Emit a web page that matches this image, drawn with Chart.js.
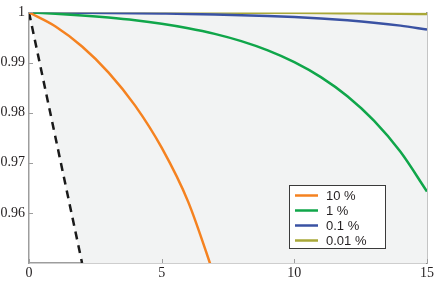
<!DOCTYPE html>
<html>
<head>
<meta charset="utf-8">
<script src="https://cdn.jsdelivr.net/npm/chart.js@4.4.1/dist/chart.umd.min.js"></script>
<style>
  html, body { margin: 0; padding: 0; background: #fff; }
  #wrap { position: relative; width: 436px; height: 282px; }
</style>
</head>
<body>
<div id="wrap"><canvas id="myChart" width="436" height="282"></canvas></div>
<script>
/* Values */
var xs = [0, 1, 2, 3, 4, 5, 6, 7, 8, 9, 10, 11, 12, 13, 14, 15];
var xsTen = [0, 1, 2, 3, 4, 5, 6, 7];
var ten = [1, 0.9972, 0.9932, 0.9880, 0.9814, 0.9730, 0.9622, 0.9472];
var one = [1, 0.99974, 0.99940, 0.99897, 0.99843, 0.99773, 0.99684, 0.99571, 0.99426, 0.99242, 0.99007, 0.98708, 0.98326, 0.97839, 0.97218, 0.96426];
var tenth = [1, 0.99997, 0.99994, 0.99990, 0.99985, 0.99978, 0.99970, 0.99959, 0.99945, 0.99928, 0.99906, 0.99877, 0.99841, 0.99795, 0.99736, 0.99660];
var hundredth = [1, 1, 0.99999, 0.99999, 0.99998, 0.99998, 0.99997, 0.99996, 0.99995, 0.99993, 0.99991, 0.99988, 0.99984, 0.99980, 0.99974, 0.99966];
var dashX = [0, 2];
var dashY = [1, 0.95];
var shadeX = [0, 2, 15];
var shadeY = [1, 0.95, 0.95];

var labels = ['10 %', '1 %', '0.1 %', '0.01 %'];
var colors = ['#f58220', '#10a64a', '#3a52a3', '#a9a838'];

var xTicks = [0, 5, 10, 15];
var yTicks = [0.96, 0.97, 0.98, 0.99, 1];
var yTickLabels = ['0.96', '0.97', '0.98', '0.99', '1'];

function pts(x, y) {
    var out = [];
    for (let i = 0; i < y.length; i++) out.push({x: x[i], y: y[i]});
    return out;
}

var axisGray = '#9d9d9d';

function curve(i, x, y) {
    return {
        label: labels[i],
        data: pts(x, y),
        borderColor: colors[i],
        backgroundColor: colors[i],
        borderWidth: 2.5,
        pointRadius: 0,
        cubicInterpolationMode: 'monotone',
        fill: false
    };
}

/* small tick marks pointing into the plot */
const innerTicks = {
    id: 'innerTicks',
    afterDatasetsDraw(chart) {
        var ctx = chart.ctx, a = chart.chartArea;
        var sx = chart.scales.x, sy = chart.scales.y;
        ctx.save();
        ctx.strokeStyle = axisGray;
        ctx.lineWidth = 1;
        yTicks.forEach(function (v) {
            var py = Math.round(sy.getPixelForValue(v)) + 0.5;
            ctx.beginPath(); ctx.moveTo(a.left, py); ctx.lineTo(a.left + 4, py); ctx.stroke();
        });
        xTicks.forEach(function (v) {
            var px = Math.round(sx.getPixelForValue(v)) + 0.5;
            ctx.beginPath(); ctx.moveTo(px, a.bottom); ctx.lineTo(px, a.bottom - 4); ctx.stroke();
        });
        ctx.restore();
    }
};

/* boxed legend inside the plot, lower right */
const boxLegend = {
    id: 'boxLegend',
    afterDraw(chart) {
        var ctx = chart.ctx, a = chart.chartArea;
        var bx = a.right - 138, by = a.bottom - 78, bw = 96, bh = 63;
        ctx.save();
        ctx.fillStyle = '#ffffff';
        ctx.fillRect(bx, by, bw, bh);
        ctx.strokeStyle = '#3a3a3a';
        ctx.lineWidth = 1;
        ctx.strokeRect(bx + 0.5, by + 0.5, bw, bh);
        ctx.font = '13px "Liberation Sans Narrow", "Liberation Sans", sans-serif';
        ctx.textBaseline = 'middle';
        ctx.fillStyle = '#231f20';
        for (let i = 0; i < 4; i++) {
            var ds = chart.data.datasets[i];
            var ry = by + 10.5 + i * 15;
            ctx.strokeStyle = ds.borderColor;
            ctx.lineWidth = 2.5;
            ctx.beginPath(); ctx.moveTo(bx + 6, ry); ctx.lineTo(bx + 29, ry); ctx.stroke();
            ctx.fillText(ds.label, bx + 37, ry + 0.5);
        }
        ctx.restore();
    }
};

const data = {
    datasets: [
        curve(0, xsTen, ten),
        curve(1, xs, one),
        curve(2, xs, tenth),
        curve(3, xs, hundredth),
        {
            label: 'dash',
            data: pts(dashX, dashY),
            borderColor: '#1a1a1a',
            borderWidth: 2.5,
            borderDash: [8, 6],
            pointRadius: 0,
            fill: false
        },
        {
            label: 'shade',
            data: pts(shadeX, shadeY),
            borderWidth: 0,
            borderColor: 'rgba(0,0,0,0)',
            backgroundColor: '#f2f3f3',
            pointRadius: 0,
            fill: 'end'
        }
    ]
};

const serif = { family: '"Liberation Serif", "Times New Roman", serif', size: 14 };

const config = {
    type: 'line',
    data: data,
    options: {
        responsive: false,
        animation: false,
        layout: { padding: { top: 7, right: 8, left: 0, bottom: 0 } },
        plugins: { legend: { display: false }, tooltip: { enabled: false } },
        scales: {
            x: {
                type: 'linear',
                min: 0, max: 15,
                grid: { display: false, drawTicks: false },
                border: { display: true, color: axisGray, width: 1.5 },
                afterBuildTicks: function (s) { s.ticks = xTicks.map(function (v) { return {value: v}; }); },
                afterFit: function (s) { s.height = 19; },
                ticks: { font: serif, color: '#231f20', padding: 2, maxRotation: 0,
                    callback: function (v) { return String(v); } }
            },
            y: {
                min: 0.95, max: 1,
                grid: { display: false, drawTicks: false },
                border: { display: true, color: axisGray, width: 1.5 },
                afterBuildTicks: function (s) { s.ticks = yTicks.map(function (v) { return {value: v}; }); },
                afterFit: function (s) { s.width = 29; },
                ticks: { font: serif, color: '#231f20', padding: 4,
                    callback: function (v) { return yTickLabels[yTicks.indexOf(v)]; } }
            },
            y2: {
                position: 'right',
                min: 0.95, max: 1,
                grid: { display: false, drawTicks: false },
                border: { display: true, color: '#8a8a8a', width: 1.5 },
                ticks: { display: false },
                afterFit: function (s) { s.width = 0; }
            }
        }
    },
    plugins: [innerTicks, boxLegend]
};

const myChart = new Chart(document.getElementById('myChart'), config);
</script>
</body>
</html>
